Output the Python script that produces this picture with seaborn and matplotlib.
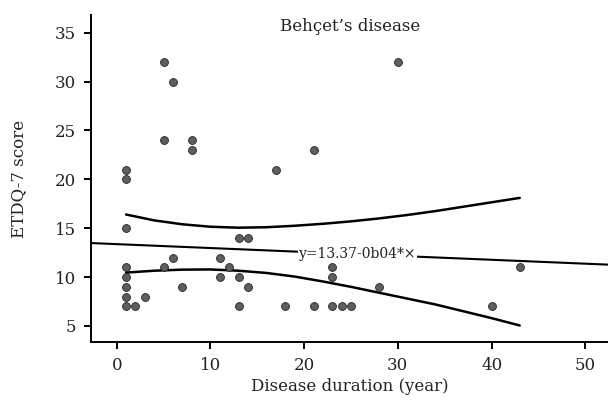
import matplotlib
matplotlib.use("Agg")
import matplotlib.pyplot as plt
import seaborn as sns
import pandas as pd

# scatter data: disease duration (year) vs ETDQ-7 score
duration = [1, 1, 1, 1, 1, 1, 1, 1, 2, 3, 5, 5, 5, 6, 6, 7, 8, 8,
            11, 11, 12, 13, 13, 13, 14, 14, 17, 18, 21, 21, 23, 23, 23,
            24, 25, 28, 30, 40, 43]
score = [21, 20, 15, 11, 10, 9, 8, 7, 7, 8, 32, 24, 11, 30, 12, 9, 24, 23,
         12, 10, 11, 14, 10, 7, 14, 9, 21, 7, 23, 7, 11, 10, 7,
         7, 7, 9, 32, 7, 11]

# regression line y = 13.37 - 0.04*x
intercept = 13.37
slope = -0.04

# confidence band curves
band_x = [1, 4, 7, 10, 13, 16, 19, 22, 25, 28, 31, 34, 37, 40, 43]
band_upper = [16.4, 15.8, 15.4, 15.15, 15.05, 15.1, 15.25, 15.45, 15.7,
              16.0, 16.35, 16.75, 17.2, 17.65, 18.1]
band_lower = [10.46, 10.65, 10.76, 10.78, 10.65, 10.42, 10.05, 9.55, 9.0,
              8.4, 7.8, 7.2, 6.5, 5.8, 5.05]

x_ticks = [0, 10, 20, 30, 40, 50]
y_ticks = [5, 10, 15, 20, 25, 30, 35]

df = pd.DataFrame({"duration": duration, "score": score})
bands = pd.DataFrame({"x": band_x, "upper": band_upper, "lower": band_lower})

sns.set_style("ticks")
plt.rcParams["font.family"] = ["DejaVu Serif"]

fig = plt.figure(figsize=(6.08, 4.03), dpi=100)
ax = fig.add_axes([0.1497, 0.1514, 0.8503, 0.8114])

ax.axline((0, intercept), slope=slope, color="black", lw=1.5, zorder=2)
sns.lineplot(data=bands, x="x", y="upper", color="black", lw=1.8, ax=ax, zorder=2)
sns.lineplot(data=bands, x="x", y="lower", color="black", lw=1.8, ax=ax, zorder=2)
sns.scatterplot(data=df, x="duration", y="score", s=32, color="#5e5e5e",
                edgecolor="#222222", linewidth=0.6, alpha=1.0, ax=ax, zorder=3)

ax.text(19.4, 12.35, "y=13.37-0b04*×", fontsize=10, ha="left", va="center",
        color="#222222", bbox=dict(facecolor="white", edgecolor="none", pad=0.5),
        zorder=4)
ax.text(24.95, 35.6, "Behçet’s disease", fontsize=12, ha="center", va="center",
        color="#222222")

ax.set_xlim(-2.74, 52.42)
ax.set_ylim(3.36, 36.81)
ax.set_xticks(x_ticks)
ax.set_yticks(y_ticks)
ax.set_xlabel("Disease duration (year)", fontsize=12, color="#222222", labelpad=3)
ax.set_ylabel("ETDQ-7 score", fontsize=12, color="#222222", labelpad=20)
ax.tick_params(labelsize=12, width=1.4, length=5, colors="black",
               labelcolor="#222222")
ax.tick_params(axis="x", pad=6)
ax.tick_params(axis="y", pad=6)
for side in ["left", "bottom"]:
    ax.spines[side].set_linewidth(1.4)
    ax.spines[side].set_color("black")
sns.despine(ax=ax)

fig.savefig("out.png", dpi=100)
